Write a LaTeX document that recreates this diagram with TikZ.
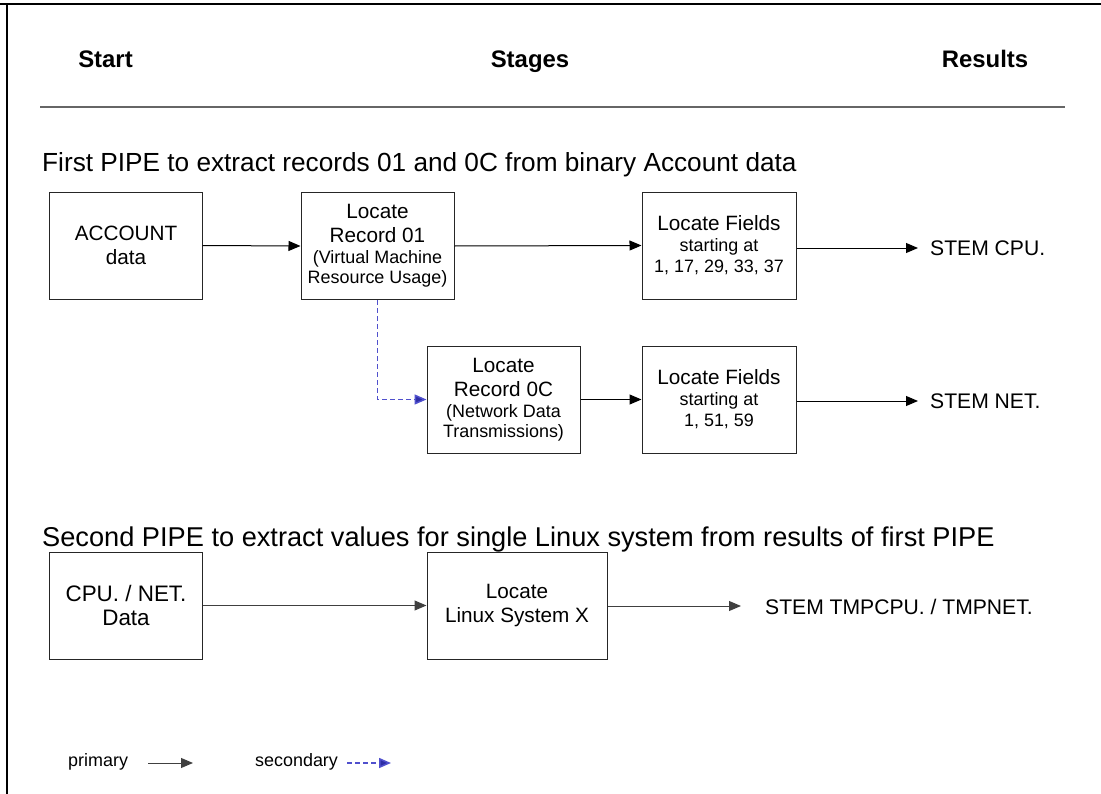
\documentclass[tikz,border=0pt]{standalone}
\usepackage{fontspec}
\setmainfont{Liberation Sans}
\usetikzlibrary{arrows.meta}
\newcommand\fsHead{\fontsize{24}{28}\selectfont\bfseries}
\newcommand\fsTitle{\fontsize{26.3}{30}\selectfont}
\newcommand\fsBig{\fontsize{20.8}{24}\selectfont}
\newcommand\fsMid{\fontsize{18}{23}\selectfont}
\newcommand\fsSmall{\fontsize{18}{21}\selectfont}
\newcommand\fsLeg{\fontsize{18}{20}\selectfont}
\newcommand\fsRes{\fontsize{21.2}{24}\selectfont}
\definecolor{secblue}{RGB}{45,45,165}
\definecolor{seclight}{RGB}{80,80,205}
\begin{document}
\begin{tikzpicture}[x=1bp,y=-1bp,
  box/.style={draw=black!85,line width=1bp,minimum width=153bp,minimum height=107bp,
    align=center,inner sep=0pt,font=\fsBig},
  prim/.style={line width=1bp,draw=black,-{Triangle[length=12bp,width=10bp]}},
  primgray/.style={line width=1bp,draw=black!75,-{Triangle[length=12bp,width=10bp]}},
  sec/.style={line width=1.5bp,draw=seclight,dash pattern=on 5bp off 3bp,
    -{Triangle[length=12bp,width=10bp,fill=secblue]}},
  res/.style={anchor=west,inner sep=0pt,font=\fsRes},
  head/.style={inner sep=0pt,anchor=base,font=\fsHead},
  ttl/.style={anchor=base west,inner sep=0pt,font=\fsTitle}]
\useasboundingbox (0,0) rectangle (1101,794);
% frame
\draw[line width=1.3bp] (0,4) -- (1101,4);
\draw[line width=1.3bp] (7,4) -- (7,794);
% headings
\node[head] (hstart) at (105.5,68) {Start};
\node[head] (hstages) at (530,68) {Stages};
\node[head] (hresults) at (985,68) {Results};
\draw[line width=1.8bp,draw=black!60] (40,107) -- (1065,107);
% first pipe
\node[ttl] (t1) at (42,171) {First PIPE to extract records 01 and 0C from binary Account data};
\node[box,minimum width=152bp] (acc) at (126,245.5) {ACCOUNT\\data};
\node[box] (r01) at (377.5,246) {Locate\\Record 01\\[-3bp]{\fsSmall(Virtual Machine}\\[-4bp]{\fsSmall Resource Usage)}};
\node[box,minimum width=154bp] (f1) at (719,245.5) {Locate Fields\\[-3bp]{\fsMid starting at}\\[-3bp]{\fsMid 1, 17, 29, 33, 37}};
\node[res] (cpu) at (930,248) {STEM CPU.};
\node[box] (r0c) at (503.5,399.5) {Locate\\Record 0C\\[-3bp]{\fsSmall(Network Data}\\[-4bp]{\fsSmall Transmissions)}};
\node[box,minimum width=154bp] (f2) at (719,399.5) {Locate Fields\\[-3bp]{\fsMid starting at}\\[-3bp]{\fsMid 1, 51, 59}};
\node[res] (net) at (930,401) {STEM NET.};
\coordinate (cpuin) at (918,248);
\coordinate (netin) at (918,401);
\draw[prim] (acc.east) -- (r01.west);
\draw[prim] (r01.east) -- (f1.west);
\draw[prim] (f1.east |- cpuin) -- (cpuin);
\draw[sec] (r01.south) |- (r0c.west);
\draw[prim] (r0c.east) -- (f2.west);
\draw[prim] (f2.east |- netin) -- (netin);
% second pipe
\node[ttl,font=\fontsize{27.3}{30}\selectfont] (t2) at (42,546) {Second PIPE to extract values for single Linux system from results of first PIPE};
\node[box,minimum width=152bp,font=\fontsize{22.5}{24}\selectfont] (cn) at (126,605.5) {CPU. / NET.\\Data};
\node[box,minimum width=180bp] (lx) at (517,605.5) {Locate\\Linux System X};
\node[res] (tmp) at (765,607) {STEM TMPCPU. / TMPNET.};
\coordinate (tmpin) at (741,606);
\draw[primgray] (cn.east) -- (lx.west);
\draw[primgray] (lx.east |- tmpin) -- (tmpin);
% legend
\node[anchor=west,inner sep=0pt,font=\fsLeg] (lp) at (68,762) {primary};
\coordinate (lpa) at (148,763);
\coordinate (lpb) at (193,763);
\draw[primgray] (lpa) -- (lpb);
\node[anchor=west,inner sep=0pt,font=\fsLeg] (ls) at (255,762) {secondary};
\coordinate (lsa) at (347,763);
\coordinate (lsb) at (391,763);
\draw[sec] (lsa) -- (lsb);
\end{tikzpicture}
\end{document}
